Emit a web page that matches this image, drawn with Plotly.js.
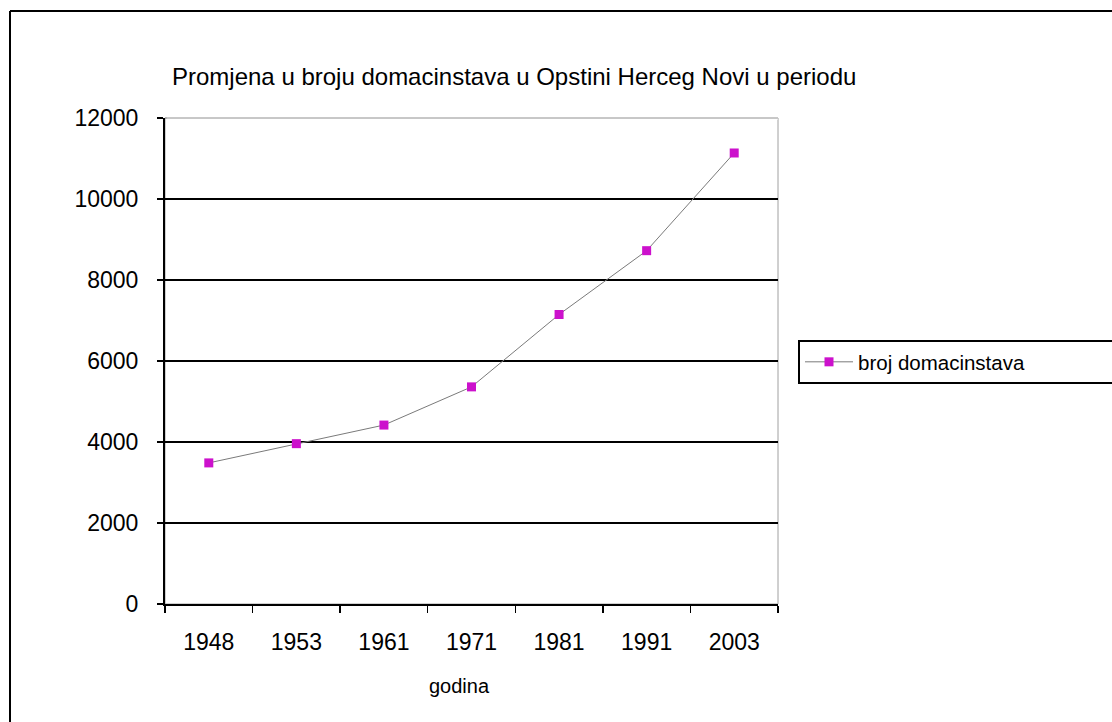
<!DOCTYPE html>
<html>
<head>
<meta charset="utf-8">
<script src="https://cdn.plot.ly/plotly-3.0.1.min.js"></script>
<style>
  html, body { margin: 0; padding: 0; background: #fff; }
  #chart { width: 1112px; height: 722px; }
</style>
</head>
<body>
<div id="chart"></div>
<script>
const years = ['1948', '1953', '1961', '1971', '1981', '1991', '2003'];
const households = [3484, 3959, 4418, 5361, 7148, 8724, 11136];
const seriesName = 'broj domacinstava';
const chartTitle = 'Promjena u broju domacinstava u Opstini Herceg Novi u periodu';
const xTitle = 'godina';
const yTicks = [0, 2000, 4000, 6000, 8000, 10000, 12000];

const FONT = 'Liberation Sans, Arial, sans-serif';

const trace = {
  x: years,
  y: households,
  type: 'scatter',
  mode: 'lines+markers',
  name: seriesName,
  line: { color: '#7a7a7a', width: 1 },
  marker: { symbol: 'square', size: 9, color: '#CC11CC' },
  showlegend: true
};

const layout = {
  width: 1112,
  height: 722,
  paper_bgcolor: '#ffffff',
  plot_bgcolor: '#ffffff',
  margin: { l: 165, r: 334, t: 118, b: 118, pad: 0, autoexpand: false },
  font: { family: FONT, color: '#000000' },
  showlegend: true,
  title: {
    text: chartTitle,
    font: { family: FONT, size: 24, color: '#000' },
    xref: 'container', yref: 'container',
    x: 172 / 1112, xanchor: 'left',
    y: 1 - 77 / 722, yanchor: 'middle'
  },
  xaxis: {
    type: 'category',
    range: [-0.5, 6.5],
    showgrid: false,
    zeroline: false,
    showline: true,
    linecolor: '#000',
    linewidth: 2,
    ticks: 'outside',
    tickson: 'boundaries',
    ticklen: 7,
    tickwidth: 1.5,
    tickcolor: '#000',
    tickfont: { family: FONT, size: 23, color: '#000' },
    ticklabelstandoff: 16,
    automargin: false,
    fixedrange: true
  },
  yaxis: {
    range: [0, 12000],
    tickvals: yTicks,
    ticktext: yTicks.map(String),
    showgrid: true,
    gridcolor: '#000',
    gridwidth: 2,
    zeroline: false,
    showline: true,
    linecolor: '#000',
    linewidth: 2,
    ticks: 'outside',
    ticklen: 6,
    tickwidth: 1.5,
    tickcolor: '#000',
    tickfont: { family: FONT, size: 23, color: '#000' },
    ticklabelstandoff: 14,
    automargin: false,
    fixedrange: true
  },
  annotations: [
    { text: xTitle, xref: 'paper', yref: 'paper',
      x: (459 - 165) / 613, y: (604 - 686) / 486,
      xanchor: 'center', yanchor: 'middle', showarrow: false,
      font: { family: FONT, size: 20, color: '#000' } }
  ],
  legend: {
    orientation: 'h',
    x: (798 - 165) / 613,
    xanchor: 'left',
    y: (604 - 340) / 486,
    yanchor: 'top',
    bgcolor: '#ffffff',
    bordercolor: '#000',
    borderwidth: 2,
    itemwidth: 48,
    font: { family: FONT, size: 20.5, color: '#000' },
    entrywidth: 330,
    entrywidthmode: 'pixels'
  },
  shapes: [
    { type: 'rect', xref: 'paper', yref: 'paper', x0: 0, x1: 1, y0: 0, y1: 1,
      line: { color: '#a0a0a0', width: 1 }, layer: 'below' },
    { type: 'line', xref: 'paper', yref: 'paper', x0: 0.003, x1: 1, y0: 1, y1: 1,
      line: { color: '#ffffff', width: 3 }, layer: 'above' },
    { type: 'line', xref: 'paper', yref: 'paper', x0: 0, x1: 1, y0: 1, y1: 1,
      line: { color: '#909090', width: 1 }, layer: 'above' },
    { type: 'line', xref: 'paper', yref: 'paper',
      x0: (10 - 165) / 613, x1: (10 - 165) / 613, y0: (604 - 725) / 486, y1: (604 - 11) / 486,
      line: { color: '#000', width: 2 } },
    { type: 'line', xref: 'paper', yref: 'paper',
      x0: (10 - 165) / 613, x1: (1115 - 165) / 613, y0: (604 - 11) / 486, y1: (604 - 11) / 486,
      line: { color: '#000', width: 2 } }
  ]
};

Plotly.newPlot('chart', [trace], layout, { displayModeBar: false, staticPlot: true });
</script>
</body>
</html>
